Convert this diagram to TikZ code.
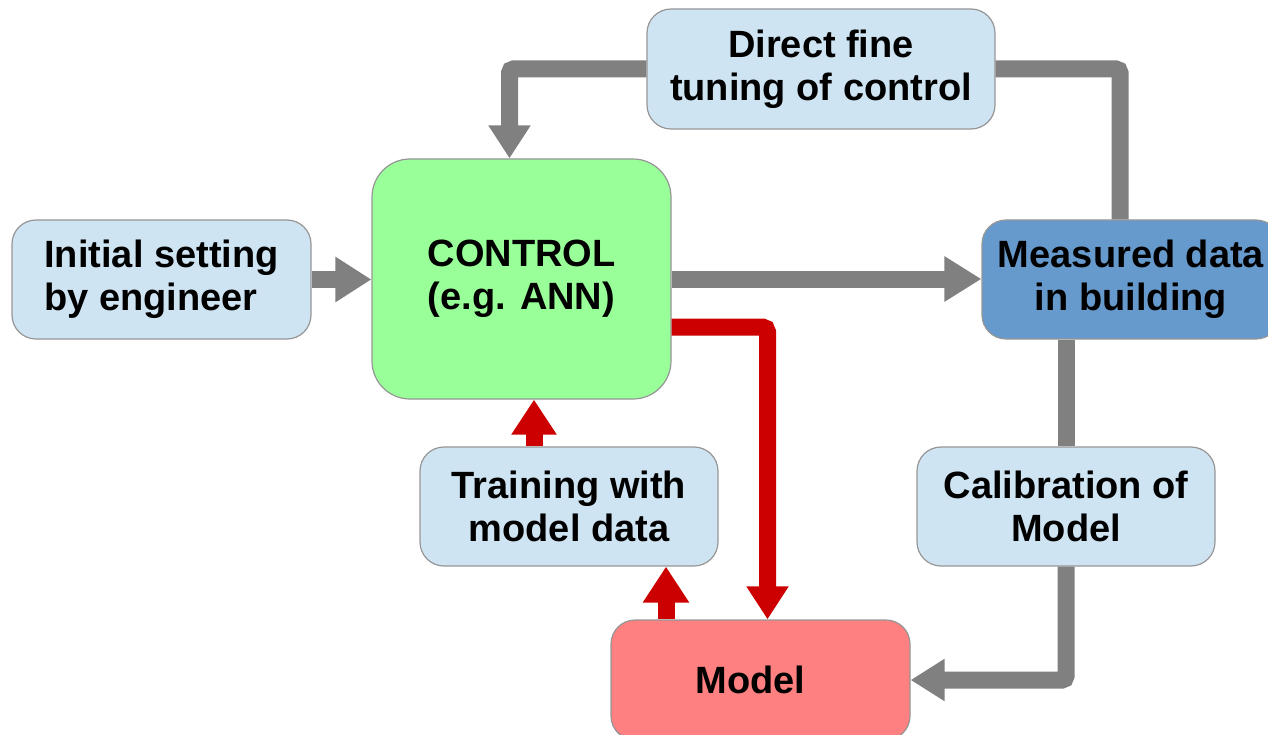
\documentclass[tikz,border=0pt]{standalone}
\usepackage{fontspec}
\setmainfont{Liberation Sans}
\usetikzlibrary{arrows.meta}
\definecolor{boxblue}{RGB}{207,228,242}
\definecolor{ctrlgreen}{RGB}{153,255,153}
\definecolor{measblue}{RGB}{102,153,204}
\definecolor{modelred}{RGB}{255,128,128}
\definecolor{arrgray}{RGB}{128,128,128}
\definecolor{arrred}{RGB}{204,0,0}
\definecolor{edgegray}{RGB}{150,150,150}
\tikzset{
  box/.style={draw=edgegray, line width=1.2pt, rounded corners=24pt, align=center,
    font=\bfseries\fontsize{38}{43}\selectfont, text=black, inner sep=0pt},
  garrow/.style={draw=arrgray, line width=17pt, rounded corners=4pt},
  rarrow/.style={draw=arrred, line width=17pt, rounded corners=5pt},
}
\begin{document}
\begin{tikzpicture}[x=1pt,y=-1pt]
\useasboundingbox (0,0) rectangle (1268,735);
\clip (0,0) rectangle (1268,735);
% boxes
\node[box, fill=boxblue, minimum width=348pt, minimum height=120pt] (tune) at (821,69) {Direct fine\\tuning of control};
\node[box, fill=ctrlgreen, rounded corners=38pt, minimum width=299pt, minimum height=240pt] (ctrl) at (521.5,279) {CONTROL\\(e.g. ANN)};
\node[box, fill=boxblue, align=left, minimum width=299pt, minimum height=119pt] (init) at (161.5,279.5) {Initial setting\\by engineer};
\node[box, fill=measblue, minimum width=298pt, minimum height=119pt] (meas) at (1131,279.5) {Measured data\\in building};
\node[box, fill=boxblue, minimum width=298pt, minimum height=119pt] (train) at (569,506.5) {Training with\\model data};
\node[box, fill=boxblue, minimum width=298pt, minimum height=119pt] (calib) at (1066,506.5) {Calibration of\\Model};
\node[box, fill=modelred, minimum width=299pt, minimum height=120pt] (model) at (760.5,680) {Model\hspace*{20pt}};
% gray connectors
\draw[garrow, -{Triangle[length=36pt,width=43pt]}] (init.east) -- (init.east -| ctrl.west);
\draw[garrow, -{Triangle[length=37pt,width=43pt]}] (ctrl.east) -- (ctrl.east -| meas.west);
\draw[garrow, -{Triangle[length=33pt,width=40pt]}] (tune.west) -| ([xshift=-12pt]ctrl.north);
\draw[garrow] (tune.east) -| ([xshift=-11pt]meas.north);
\draw[garrow] (calib.north |- meas.south) -- (calib.north);
\draw[garrow, -{Triangle[length=34pt,width=40pt]}] (calib.south) |- (model.east);
% red connectors
\draw[rarrow, -{Triangle[length=33pt,width=40pt]}] ([yshift=-48pt]ctrl.east) -| ([xshift=7pt]model.north);
\coordinate (mup) at ([xshift=-94.5pt]model.north);
\draw[rarrow, -{Triangle[length=36pt,width=44pt]}] (mup) -- (mup |- train.south);
\coordinate (tup) at ([xshift=-35pt]train.north);
\draw[rarrow, -{Triangle[length=35pt,width=43pt]}] (tup) -- (tup |- ctrl.south);
\end{tikzpicture}
\end{document}
